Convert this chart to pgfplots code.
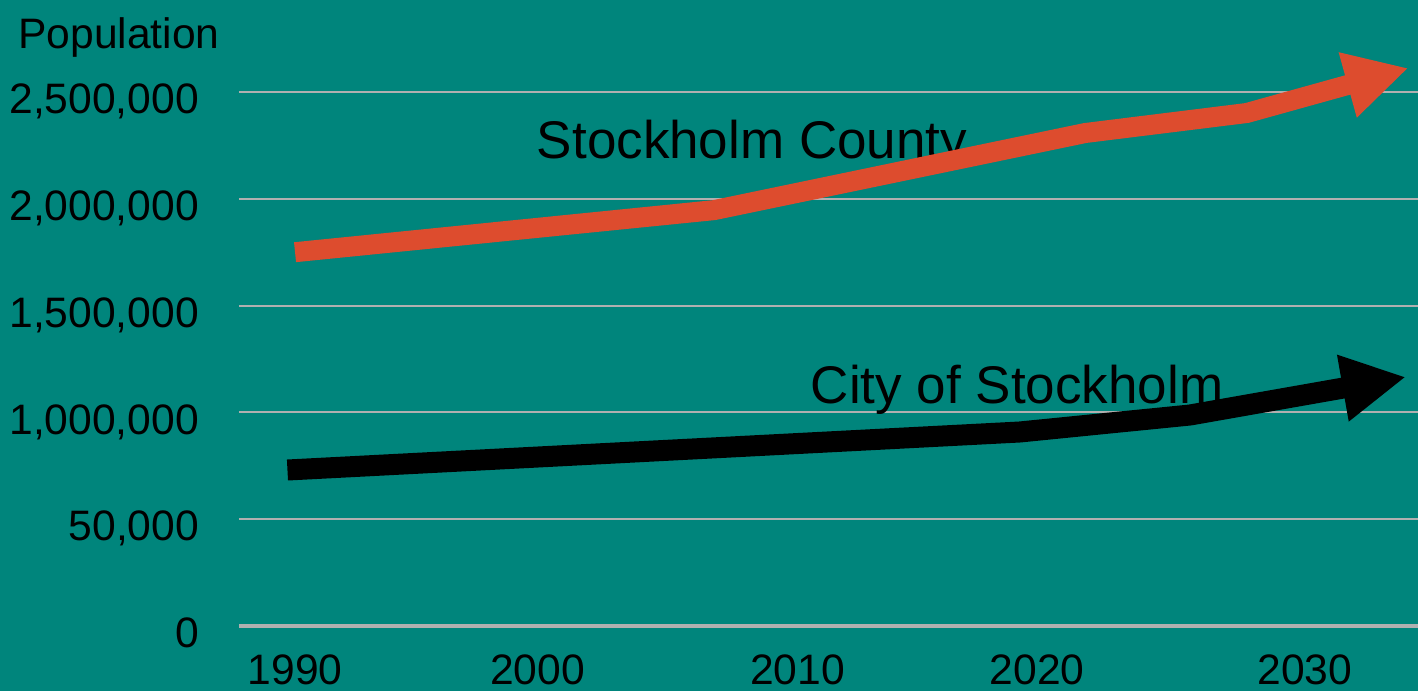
\documentclass[border=0pt]{standalone}
\usepackage{pgfplots}
\pgfplotsset{compat=1.18}
\usetikzlibrary{arrows.meta}
\usepackage{fontspec}
\setmainfont{Liberation Sans}
\definecolor{bg}{HTML}{00857C}
\definecolor{cred}{HTML}{DD4C2E}
\definecolor{gridc}{HTML}{B0B0B0}
\begin{document}
\begin{tikzpicture}
\fill[bg] (-119.5pt,-32.5pt) rectangle (589.5pt,313pt);
\begin{axis}[at={(0,0)}, anchor=south west, scale only axis,
  width=589.5pt, height=313pt,
  xmin=1987.78, xmax=2034.48, ymin=0, ymax=2930712,
  axis line style={draw=none}, major tick length=0pt,
  ymajorgrids, grid style={gridc, line width=1pt},
  ytick={0,500000,1000000,1500000,2000000,2500000},
  yticklabels={{\mbox{0}},{\mbox{50,000}},{\mbox{1,000,000}},{\mbox{1,500,000}},{\mbox{2,000,000}},{\mbox{2,500,000}}},
  xtick={1990,1999.6,2009.9,2019.4,2030},
  xticklabels={{\mbox{1990}},{\mbox{2000}},{\mbox{2010}},{\mbox{2020}},{\mbox{2030}}},
  extra y ticks={0}, extra y tick labels={},
  extra y tick style={grid style={gridc, line width=1.75pt}},
  ticklabel style={font=\fontsize{21.3}{25}\selectfont},
  yticklabel style={anchor=base east, xshift=-16.5pt, yshift=-10.8pt},
  xticklabel style={anchor=base, yshift=-29pt},
  scaled y ticks=false,
  clip=false,
]
\node[anchor=base, font=\fontsize{26.5}{30}\selectfont] at (axis cs:2008.1,2191000) {Stockholm County};
\node[anchor=base, font=\fontsize{26.5}{30}\selectfont] at (axis cs:2018.6,1044000) {City of Stockholm};
\node[anchor=base, font=\fontsize{21.3}{25}\selectfont] at (rel axis cs:-0.1018,0.9233) {Population};
\addplot[cred, line width=10pt, -{Triangle[length=31.5pt,width=31.5pt]}] coordinates {(1990,1750000) (2006.6,1947000) (2021.3,2308000) (2027.7,2401700) (2034.1,2612000)};
\addplot[black, line width=10.5pt, -{Triangle[length=32pt,width=31.5pt]}] coordinates {(1989.7,730300) (2018.7,908200) (2025.45,987800) (2034.0,1165700)};
\end{axis}
\pgfresetboundingbox
\path (-119.5pt,-32.5pt) rectangle (589.5pt,313pt);
\end{tikzpicture}
\end{document}
